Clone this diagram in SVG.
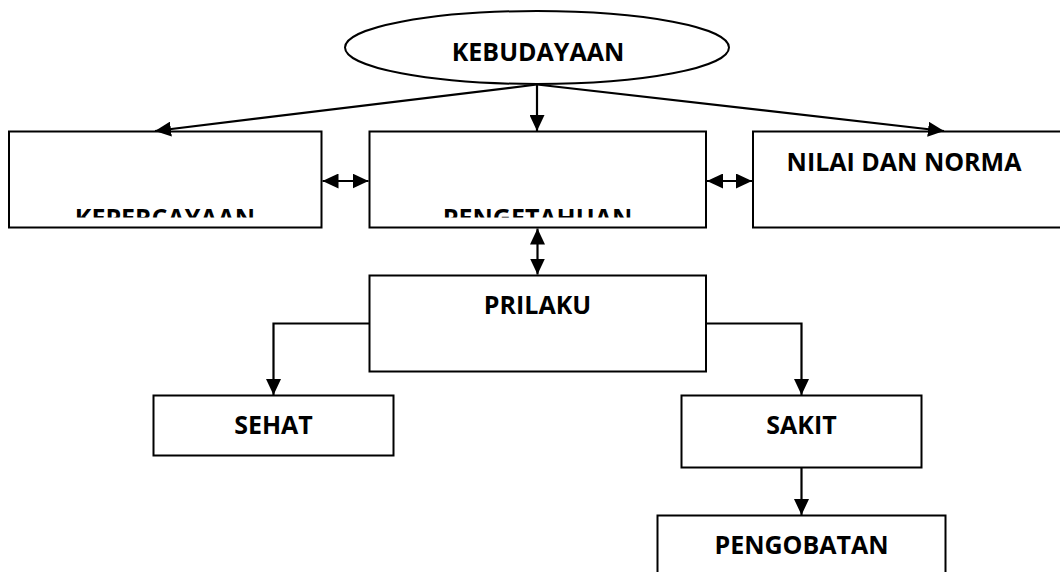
<svg xmlns="http://www.w3.org/2000/svg" width="1060" height="572" viewBox="0 0 1060 572">
<style>
.box{fill:#fff;stroke:#000;stroke-width:2}
.lbl{font-family:"Open Sans","Noto Sans","Liberation Sans",sans-serif;font-weight:700;font-size:25px;fill:#000;text-anchor:middle}
.con{fill:none;stroke:#000;stroke-width:2.2}
.arr{marker-end:url(#ah)}
.dbl{marker-start:url(#ah);marker-end:url(#ah)}
</style>
<defs>
<marker id="ah" markerUnits="userSpaceOnUse" markerWidth="16" markerHeight="15" refX="16" refY="7.5" orient="auto-start-reverse" viewBox="0 0 16 15">
<path d="M0,0 L16,7.5 L0,15 Z" fill="#000"/>
</marker>
<clipPath id="clipTop"><rect x="0" y="0" width="1060" height="217.5"/></clipPath>
</defs>
<g id="kebudayaan">
<ellipse class="box" cx="537" cy="47.5" rx="192" ry="36.5"/>
<text class="lbl" x="538" y="61">KEBUDAYAAN</text>
</g>
<g id="kepercayaan">
<rect class="box" x="9" y="131.5" width="312.5" height="96"/>
<text class="lbl" x="165" y="227" clip-path="url(#clipTop)">KEPERCAYAAN</text>
</g>
<g id="pengetahuan">
<rect class="box" x="369.5" y="131.5" width="336.5" height="96"/>
<text class="lbl" x="537.5" y="227" clip-path="url(#clipTop)">PENGETAHUAN</text>
</g>
<g id="nilai">
<rect class="box" x="753" y="131.5" width="310" height="96"/>
<text class="lbl" x="904" y="171">NILAI DAN NORMA</text>
</g>
<g id="prilaku">
<rect class="box" x="369.5" y="275.5" width="336.5" height="96"/>
<text class="lbl" x="537.5" y="314">PRILAKU</text>
</g>
<g id="sehat">
<rect class="box" x="153.5" y="395.5" width="240" height="60"/>
<text class="lbl" x="273.5" y="434">SEHAT</text>
</g>
<g id="sakit">
<rect class="box" x="681.5" y="395.5" width="240" height="72"/>
<text class="lbl" x="801.5" y="434">SAKIT</text>
</g>
<g id="pengobatan">
<rect class="box" x="657.5" y="515.5" width="288" height="80"/>
<text class="lbl" x="801.5" y="554">PENGOBATAN</text>
</g>
<g id="connectors">
<line class="con arr" x1="537" y1="84" x2="537" y2="131"/>
<line class="con arr" x1="537" y1="84.5" x2="155" y2="131"/>
<line class="con arr" x1="537" y1="84.5" x2="944" y2="131"/>
<line class="con dbl" x1="322.5" y1="181" x2="368.5" y2="181"/>
<line class="con dbl" x1="707" y1="181" x2="752" y2="181"/>
<line class="con dbl" x1="537.5" y1="228.5" x2="537.5" y2="274.5"/>
<polyline class="con arr" points="369.5,323.5 273.5,323.5 273.5,395"/>
<polyline class="con arr" points="706,323.5 801.5,323.5 801.5,395"/>
<line class="con arr" x1="801.5" y1="468" x2="801.5" y2="515"/>
</g>
</svg>
